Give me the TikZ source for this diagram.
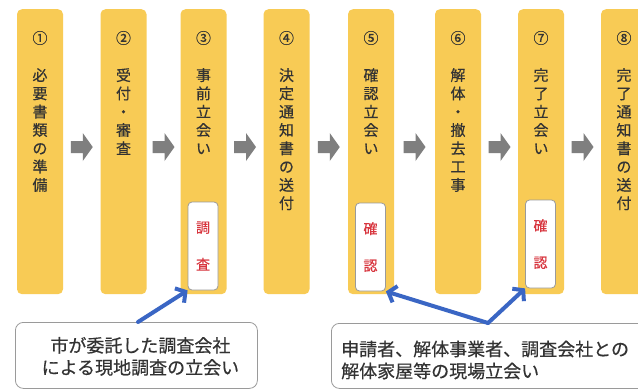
\documentclass[tikz,border=0pt]{standalone}
\usepackage{fontspec}
\setmainfont{Noto Sans CJK JP}[FakeBold=0.5]
\usetikzlibrary{arrows.meta}
\definecolor{coly}{HTML}{F8CB55}
\definecolor{arrgray}{HTML}{7F7F7F}
\definecolor{txtdark}{HTML}{333333}
\definecolor{redtxt}{HTML}{D8363F}
\definecolor{bluearr}{HTML}{3A66C4}
\definecolor{boxgray}{HTML}{9A9A9A}
\tikzset{
  colbox/.style={fill=coly, rounded corners=5pt, minimum width=46pt, minimum height=285pt, anchor=north, inner sep=0pt},
  numlabel/.style={font=\fontsize{15}{16}\selectfont, text=txtdark, inner sep=0pt},
  coltext/.style={font=\fontsize{15}{18.3}\selectfont, text=txtdark, align=center, anchor=north, inner sep=0pt},
  whitebox/.style={draw=boxgray, line width=0.8pt, fill=white, rounded corners=4pt, minimum width=30pt, minimum height=88pt, inner sep=0pt},
  redlabel/.style={font=\fontsize{14}{37}\selectfont, text=redtxt, align=center, inner sep=0pt},
  notebox/.style={draw=boxgray, line width=0.8pt, fill=white, rounded corners=8pt, inner sep=0pt},
  notetext/.style={font=\fontsize{18}{22}\selectfont, text=txtdark, inner sep=0pt},
  blockarrow/.style={fill=arrgray},
  bluelink/.style={draw=bluearr, line width=4pt, line cap=round, line join=round, -{Straight Barb[length=7pt,width=17pt]}}
}
\begin{document}
\begin{tikzpicture}[x=1pt,y=-1pt]
\useasboundingbox (0,0) rectangle (638,389);
\clip (0,0) rectangle (638,389);
\fill[white] (0,0) rectangle (638,389);
% columns
\foreach \i/\cx in {1/40,2/123.5,3/203.5,4/286.5,5/371,6/458,7/541,8/624}{
  \node[colbox] (col\i) at (\cx,9) {};
}
% block arrows between columns
\foreach \a/\b in {1/2,2/3,3/4,4/5,5/6,6/7,7/8}{
  \path (col\a.east) -- coordinate[pos=0.5] (gap\a) (col\b.west);
}
\foreach \a in {1,...,7}{
  \fill[blockarrow] ([xshift=-11pt]gap\a |- 0,141) -- ++(12,0) -- ++(0,-8) -- ++(10,14) -- ++(-10,14) -- ++(0,-8) -- ++(-12,0) -- cycle;
}
% numbers
\node[numlabel] (n1) at (40,38) {①};
\node[numlabel] (n2) at (123.5,38) {②};
\node[numlabel] (n3) at (203.5,38) {③};
\node[numlabel] (n4) at (286.5,38) {④};
\node[numlabel] (n5) at (371,38) {⑤};
\node[numlabel] (n6) at (458,38) {⑥};
\node[numlabel] (n7) at (541,38) {⑦};
\node[numlabel] (n8) at (624,38) {⑧};
% column texts
\node[coltext] (t1) at (40,68) {必\\要\\書\\類\\の\\準\\備};
\node[coltext] (t2) at (123.5,68) {受\\付\\・\\審\\査};
\node[coltext] (t3) at (203.5,68) {事\\前\\立\\会\\い};
\node[coltext] (t4) at (286.5,68) {決\\定\\通\\知\\書\\の\\送\\付};
\node[coltext] (t5) at (371,68) {確\\認\\立\\会\\い};
\node[coltext] (t6) at (458,68) {解\\体\\・\\撤\\去\\工\\事};
\node[coltext] (t7) at (541,68) {完\\了\\立\\会\\い};
\node[coltext] (t8) at (624,68) {完\\了\\通\\知\\書\\の\\送\\付};
% white boxes
\node[whitebox] (w3) at (203,246) {};
\node[whitebox] (w5) at (370.5,247) {};
\node[whitebox] (w7) at (540.5,244) {};
\node[redlabel] (r3) at (w3) {調\\査};
\node[redlabel] (r5) at (w5) {確\\認};
\node[redlabel] (r7) at (w7) {確\\認};
% note boxes
\node[notebox, minimum width=242pt, minimum height=66pt, anchor=north west] (note1) at (15,322) {};
\node[notetext, align=center] (nt1) at ([xshift=4pt,yshift=-1pt]note1.center) {市が委託した調査会社\\による現地調査の立会い};
\node[notebox, minimum width=320pt, minimum height=65pt, anchor=north west] (note2) at (331,323) {};
\node[notetext, align=left, anchor=west] (nt2) at (341,360) {申請者、解体事業者、調査会社との\\解体家屋等の現場立会い};
% blue links
\coordinate (j1) at (note1.north -| 138,0);
\coordinate (j2) at (488,323);
\draw[bluelink] (j1) -- (w3.south west);
\draw[bluelink] (j2) -- (w5.south east);
\draw[bluelink] (j2) -- (w7.south west);
\end{tikzpicture}
\end{document}
